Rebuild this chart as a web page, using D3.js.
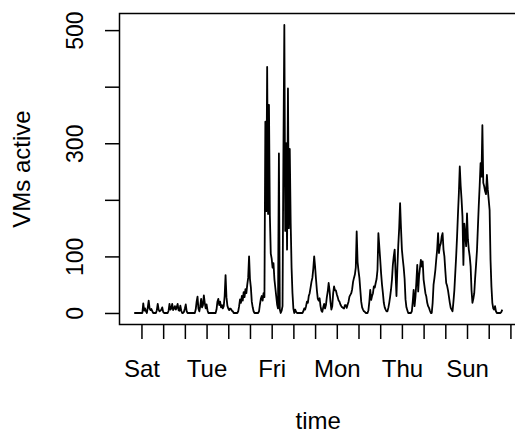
<!DOCTYPE html>
<html>
<head>
<meta charset="utf-8">
<script src="https://cdn.jsdelivr.net/npm/d3@7/dist/d3.min.js"></script>
<style>
	body { margin: 0; background: white; }
	text { font-family: "Liberation Sans", Arial, Helvetica, sans-serif; fill: black; }
</style>
</head>
<body>
<script>

	// hourly count of active VMs; first value is Friday 16:00,
	// i.e. 8 hours before the first "Sat" tick
	var startHour = -8;
	var vms = [
		0, 0, 0, 0, 0, 0, 0, 0, 0, 0,
		17, 4, 8, 3, 0, 10, 22, 8, 5, 7,
		3, 0, 0, 0, 0, 5, 16, 6, 3, 4,
		6, 10, 2, 0, 0, 0, 0, 0, 4, 16,
		6, 8, 16, 5, 8, 12, 6, 10, 16, 5,
		4, 13, 4, 0, 0, 2, 8, 15, 3, 0,
		0, 0, 0, 0, 0, 0, 0, 0, 6, 20,
		29, 8, 3, 12, 25, 10, 14, 31, 18, 8,
		15, 5, 0, 0, 0, 0, 0, 0, 0, 0,
		0, 6, 20, 25, 14, 20, 10, 14, 8, 12,
		30, 67, 28, 13, 8, 5, 8, 7, 4, 3,
		0, 0, 0, 0, 0, 3, 12, 24, 18, 30,
		22, 37, 28, 42, 35, 50, 62, 100, 60, 45,
		20, 10, 3, 0, 0, 0, 0, 0, 3, 15,
		25, 30, 22, 35, 28, 338, 180, 435, 175, 368,
		172, 105, 96, 80, 88, 60, 45, 30, 15, 8,
		282, 6, 0, 4, 12, 290, 509, 145, 300, 112,
		397, 150, 290, 160, 80, 35, 8, 0, 6, 2,
		0, 0, 0, 0, 0, 0, 0, 3, 8, 6,
		12, 20, 18, 30, 35, 45, 55, 62, 78, 100,
		82, 60, 40, 25, 22, 26, 12, 4, 2, 10,
		16, 8, 14, 28, 38, 53, 40, 20, 6, 12,
		35, 47, 40, 40, 33, 28, 22, 20, 15, 12,
		10, 9, 8, 14, 14, 9, 15, 20, 29, 32,
		35, 42, 55, 62, 68, 80, 144, 90, 75, 62,
		41, 20, 10, 6, 3, 2, 0, 0, 0, 5,
		20, 41, 23, 30, 35, 47, 45, 53, 60, 76,
		141, 118, 95, 70, 50, 35, 18, 10, 6, 3,
		3, 9, 18, 29, 42, 59, 85, 100, 112, 70,
		30, 80, 120, 150, 194, 150, 112, 95, 80, 60,
		24, 10, 5, 0, 0, 0, 0, 3, 20, 41,
		12, 29, 55, 85, 38, 65, 80, 94, 82, 91,
		59, 47, 35, 29, 18, 12, 9, 4, 0, 0,
		18, 50, 62, 76, 95, 112, 141, 106, 118, 123,
		135, 141, 112, 100, 75, 53, 48, 40, 29, 18,
		9, 6, 3, 20, 40, 70, 100, 135, 175, 212,
		259, 225, 200, 170, 85, 158, 140, 118, 176, 130,
		112, 100, 82, 40, 18, 25, 35, 62, 85, 110,
		150, 190, 225, 265, 241, 332, 230, 224, 215, 210,
		244, 218, 200, 182, 94, 47, 18, 8, 6, 12,
		3, 0, 0, 0, 0, 0, 2, 6
	];

	// one tick per midnight; R only has room to print every third name
	var days = ["Sat", "Sun", "Mon", "Tue", "Wed", "Thu", "Fri",
	            "Sat", "Sun", "Mon", "Tue", "Wed", "Thu", "Fri",
	            "Sat", "Sun", "Mon", "Tue"];
	var dayLabelStep = 3;

	var yTicks  = [0, 100, 200, 300, 400, 500];
	var yLabels = [0, 100, 300, 500];

	var xTitle = "time";
	var yTitle = "VMs active";

	/* ------------------------------------------------------------------ */

	var width  = 515;
	var height = 434;

	// plot box (the right edge falls just outside the window, as in the original)
	var box = { left: 119.5, top: 13.5, right: 517, bottom: 324.5 };
	var tickLen = 14.5;
	var fontSize = 24;

	var svg = d3.select("body").append("svg")
		.attr("width", width)
		.attr("height", height);

	var data = vms.map(function(v, i) {
		return { hour: startHour + i, value: v };
	});

	// R style axes: data range padded by 4% on each side
	function padded(ext) {
		var pad = (ext[1] - ext[0]) * 0.04;
		return [ext[0] - pad, ext[1] + pad];
	}

	var x = d3.scaleLinear()
		.domain(padded(d3.extent(data, function(d) { return d.hour; })))
		.range([box.left, box.right]);

	var y = d3.scaleLinear()
		.domain(padded([0, d3.max(vms)]))
		.range([box.bottom, box.top]);

	var line = d3.line()
		.x(function(d) { return x(d.hour); })
		.y(function(d) { return y(d.value); });

	svg.append("path")
		.datum(data)
		.attr("d", line)
		.attr("fill", "none")
		.attr("stroke", "black")
		.attr("stroke-width", 1.8)
		.attr("stroke-linejoin", "round");

	// x axis
	var xAxis = d3.axisBottom(x)
		.tickValues(days.map(function(d, i) { return i * 24; }))
		.tickSize(tickLen)
		.tickSizeOuter(0)
		.tickFormat(function(d, i) { return i % dayLabelStep == 0 ? days[i] : ""; });

	var gx = svg.append("g")
		.attr("transform", "translate(0," + box.bottom + ")")
		.call(xAxis);

	gx.select(".domain").remove();
	gx.selectAll("line").attr("stroke", "black").attr("stroke-width", 1.5);
	gx.selectAll("text")
		.attr("y", 52.5)
		.attr("dy", null)
		.style("font-size", fontSize + "px")
		.style("font-family", null);

	// y axis, labels parallel to the axis
	var yAxis = d3.axisLeft(y)
		.tickValues(yTicks)
		.tickSize(tickLen)
		.tickSizeOuter(0)
		.tickFormat(function(d) { return yLabels.indexOf(d) >= 0 ? d : ""; });

	var gy = svg.append("g")
		.attr("transform", "translate(" + box.left + ",0)")
		.call(yAxis);

	gy.select(".domain").remove();
	gy.selectAll("line").attr("stroke", "black").attr("stroke-width", 1.5);
	gy.selectAll("text")
		.attr("x", null)
		.attr("dy", null)
		.attr("text-anchor", "middle")
		.attr("transform", "translate(-36.5,0) rotate(-90)")
		.style("font-size", (fontSize - 1) + "px")
		.style("font-family", null);

	// box round the plot
	svg.append("rect")
		.attr("x", box.left)
		.attr("y", box.top)
		.attr("width", box.right - box.left)
		.attr("height", box.bottom - box.top)
		.attr("fill", "none")
		.attr("stroke", "black")
		.attr("stroke-width", 1.5);

	// titles
	svg.append("text")
		.attr("x", (box.left + box.right) / 2)
		.attr("y", 428.5)
		.attr("text-anchor", "middle")
		.style("font-size", fontSize + "px")
		.text(xTitle);

	svg.append("text")
		.attr("transform", "translate(30," + (box.top + box.bottom) / 2 + ") rotate(-90)")
		.attr("text-anchor", "middle")
		.style("font-size", fontSize + "px")
		.text(yTitle);

</script>
</body>
</html>
